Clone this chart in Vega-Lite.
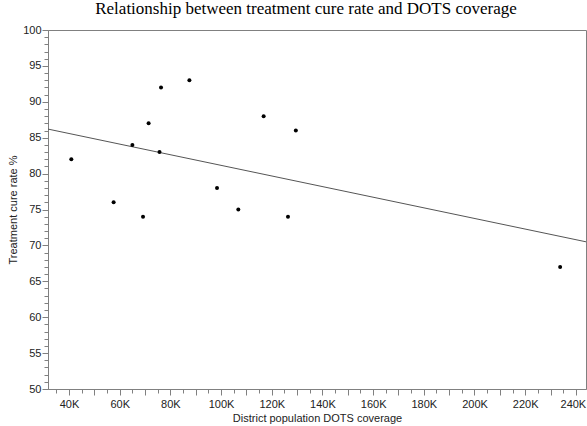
{
  "$schema": "https://vega.github.io/schema/vega-lite/v6.json",
  "autosize": "none",
  "width": 538,
  "height": 359,
  "padding": {"left": 48, "top": 30, "right": 1, "bottom": 37},
  "background": "white",
  "title": {
    "text": "Relationship between treatment cure rate and DOTS coverage",
    "font": "Liberation Serif",
    "fontSize": 17,
    "fontWeight": "normal",
    "color": "#000",
    "anchor": "middle",
    "frame": "group",
    "dx": -11,
    "offset": 6
  },
  "config": {
    "view": {"stroke": "#808080", "strokeWidth": 1},
    "axis": {
      "labelFont": "Liberation Sans",
      "titleFont": "Liberation Sans",
      "labelFontSize": 11,
      "titleFontSize": 11,
      "titleFontWeight": "normal",
      "labelColor": "#222",
      "titleColor": "#222",
      "domainColor": "#808080",
      "tickColor": "#808080",
      "grid": false
    }
  },
  "datasets": {
    "pts": [
      {"coverage": 40900, "cure": 82},
      {"coverage": 57600, "cure": 76},
      {"coverage": 65000, "cure": 84},
      {"coverage": 69200, "cure": 74},
      {"coverage": 71400, "cure": 87},
      {"coverage": 75700, "cure": 83},
      {"coverage": 76300, "cure": 92},
      {"coverage": 87500, "cure": 93},
      {"coverage": 98400, "cure": 78},
      {"coverage": 106800, "cure": 75},
      {"coverage": 116800, "cure": 88},
      {"coverage": 126400, "cure": 74},
      {"coverage": 129500, "cure": 86},
      {"coverage": 233800, "cure": 67}
    ],
    "fit": [
      {"coverage": 31700, "cure": 86.2},
      {"coverage": 244000, "cure": 70.5}
    ]
  },
  "layer": [
    {
      "data": {"name": "fit"},
      "mark": {"type": "line", "color": "#555", "strokeWidth": 1},
      "encoding": {
        "x": {"field": "coverage", "type": "quantitative"},
        "y": {"field": "cure", "type": "quantitative"}
      }
    },
    {
      "data": {"name": "pts"},
      "mark": {"type": "point", "filled": true, "color": "#000", "opacity": 1, "size": 16},
      "encoding": {
        "x": {
          "field": "coverage",
          "type": "quantitative",
          "scale": {"domain": [31700, 244000], "nice": false, "zero": false},
          "axis": {
            "title": "District population DOTS coverage",
            "titlePadding": 3,
            "labelOverlap": false,
            "labelFlush": false,
            "tickCount": 500,
            "values": [35000,40000,45000,50000,55000,60000,65000,70000,75000,80000,85000,90000,95000,100000,105000,110000,115000,120000,125000,130000,135000,140000,145000,150000,155000,160000,165000,170000,175000,180000,185000,190000,195000,200000,205000,210000,215000,220000,225000,230000,235000,240000],
            "labelExpr": "datum.value % 20000 === 0 ? format(datum.value/1000, 'd') + 'K' : ''",
            "labelOffset": {"condition": {"test": "datum.value === 240000", "value": -3}, "value": 0},
            "tickSize": {"condition": {"test": "datum.value % 10000 === 0", "value": 6}, "value": 4},
            "labelPadding": 3
          }
        },
        "y": {
          "field": "cure",
          "type": "quantitative",
          "scale": {"domain": [50, 100], "nice": false, "zero": false},
          "axis": {
            "title": "Treatment cure rate %",
            "titlePadding": 4,
            "labelOverlap": false,
            "labelFlush": false,
            "tickCount": 500,
            "values": [50,51,52,53,54,55,56,57,58,59,60,61,62,63,64,65,66,67,68,69,70,71,72,73,74,75,76,77,78,79,80,81,82,83,84,85,86,87,88,89,90,91,92,93,94,95,96,97,98,99,100],
            "labelExpr": "datum.value % 5 === 0 ? format(datum.value, 'd') : ''",
            "tickSize": {"condition": {"test": "datum.value % 5 === 0", "value": 6}, "value": 4},
            "labelPadding": 1
          }
        }
      }
    }
  ]
}
